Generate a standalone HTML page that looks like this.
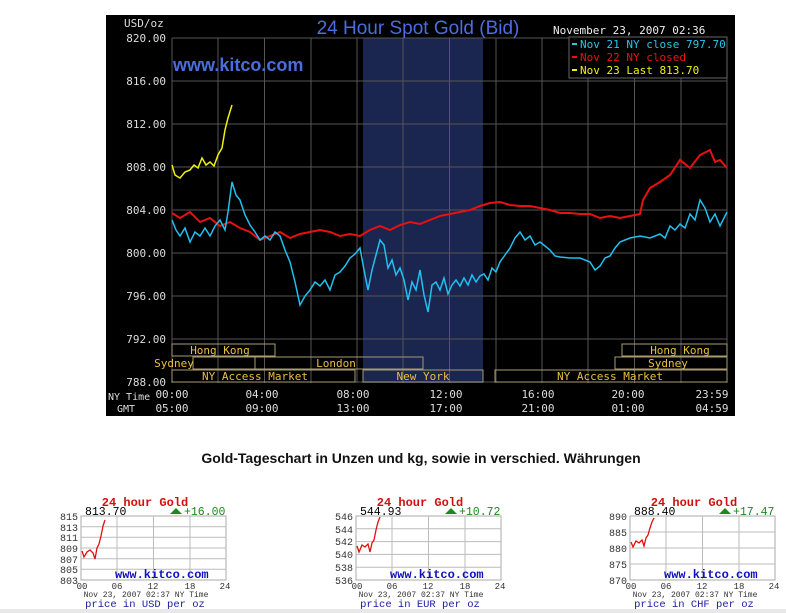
<!DOCTYPE html>
<html><head><meta charset="utf-8"><style>
body{margin:0;background:#fff;width:786px;height:613px;overflow:hidden}
svg{display:block}
.m{font-family:"DejaVu Sans Mono","Liberation Mono",monospace}
.l{font-family:"Liberation Mono",monospace}
</style></head><body>
<svg width="786" height="613" xmlns="http://www.w3.org/2000/svg">
<rect x="106" y="15" width="629" height="401" fill="#000"/>
<rect x="363" y="38" width="120" height="345" fill="#1a2550"/>
<g stroke="#555" stroke-width="1">
<line x1="172" y1="38" x2="727" y2="38"/><line x1="172" y1="81" x2="727" y2="81"/><line x1="172" y1="124" x2="727" y2="124"/><line x1="172" y1="167" x2="727" y2="167"/><line x1="172" y1="210" x2="727" y2="210"/><line x1="172" y1="253" x2="727" y2="253"/><line x1="172" y1="296" x2="727" y2="296"/><line x1="172" y1="339" x2="727" y2="339"/><line x1="172" y1="382" x2="727" y2="382"/>
<line x1="172" y1="38" x2="172" y2="383"/><line x1="218" y1="38" x2="218" y2="383"/><line x1="264.5" y1="38" x2="264.5" y2="383"/><line x1="311" y1="38" x2="311" y2="383"/><line x1="357" y1="38" x2="357" y2="383"/><line x1="403" y1="38" x2="403" y2="383"/><line x1="449.5" y1="38" x2="449.5" y2="383"/><line x1="496" y1="38" x2="496" y2="383"/><line x1="542" y1="38" x2="542" y2="383"/><line x1="588" y1="38" x2="588" y2="383"/><line x1="634.5" y1="38" x2="634.5" y2="383"/><line x1="681" y1="38" x2="681" y2="383"/><line x1="727" y1="38" x2="727" y2="383"/>
</g>
<g class="m" fill="#ddd" font-size="11" text-anchor="end">
<text x="166" y="42">820.00</text><text x="166" y="85">816.00</text><text x="166" y="128">812.00</text><text x="166" y="171">808.00</text><text x="166" y="214">804.00</text><text x="166" y="257">800.00</text><text x="166" y="300">796.00</text><text x="166" y="343">792.00</text><text x="166" y="386">788.00</text>
</g>
<text class="m" x="124" y="27" fill="#ddd" font-size="11">USD/oz</text>
<text x="418" y="34" fill="#4a6de0" font-family="Liberation Sans,sans-serif" font-size="19" text-anchor="middle">24 Hour Spot Gold (Bid)</text>
<text x="173" y="71" fill="#4a6de0" font-family="Liberation Sans,sans-serif" font-size="18" font-weight="bold">www.kitco.com</text>
<text class="m" x="553" y="34" fill="#eee" font-size="11">November 23, 2007 02:36</text>
<rect x="569" y="37" width="158" height="41" fill="#000" stroke="#666"/>
<g class="m" font-size="11">
<rect x="572" y="43" width="5" height="2" fill="#2cc4e8"/><text x="580" y="48" fill="#2cc4e8">Nov 21 NY close 797.70</text>
<rect x="572" y="56" width="5" height="2" fill="#f01010"/><text x="580" y="61" fill="#f01010">Nov 22 NY closed</text>
<rect x="572" y="69" width="5" height="2" fill="#f0f010"/><text x="580" y="74" fill="#f0f010">Nov 23 Last 813.70</text>
</g>
<g fill="none" stroke="#a89c70" stroke-width="1">
<rect x="172" y="344" width="103" height="12"/><rect x="622" y="344" width="105" height="12"/>
<rect x="193" y="357" width="62" height="12"/><rect x="255" y="357" width="168" height="12"/><rect x="615" y="357" width="112" height="12"/>
<rect x="172" y="370" width="183" height="12"/><rect x="363" y="370" width="120" height="12"/><rect x="495" y="370" width="232" height="12"/>
</g>
<g class="m" fill="#e8c040" font-size="11" text-anchor="middle">
<text x="220" y="354">Hong Kong</text><text x="680" y="354">Hong Kong</text>
<text x="174" y="367">Sydney</text><text x="336" y="367">London</text><text x="668" y="367">Sydney</text>
<text x="255" y="380">NY Access Market</text><text x="423" y="380">New York</text><text x="610" y="380">NY Access Market</text>
</g>
<g class="m" fill="#ddd" font-size="11">
<text x="108" y="400" font-size="10">NY Time</text><text x="117" y="412" font-size="10">GMT</text>
<g text-anchor="middle">
<text x="172" y="398">00:00</text><text x="262" y="398">04:00</text><text x="353" y="398">08:00</text><text x="446" y="398">12:00</text><text x="538" y="398">16:00</text><text x="628" y="398">20:00</text><text x="712" y="398">23:59</text>
<text x="172" y="412">05:00</text><text x="262" y="412">09:00</text><text x="353" y="412">13:00</text><text x="446" y="412">17:00</text><text x="538" y="412">21:00</text><text x="628" y="412">01:00</text><text x="712" y="412">04:59</text>
</g></g>
<polyline fill="none" stroke="#e81010" stroke-width="2" points="172,213 180,218 190,212 200,222 210,218 220,226 230,222 240,228 250,232 260,240 270,236 280,232 290,238 300,234 310,232 320,230 330,232 340,236 350,234 360,236 370,230 380,226 390,230 400,225 410,222 420,224 430,220 440,216 450,214 460,212 470,210 480,206 490,203 500,202 510,205 520,206 530,206 540,208 550,210 560,213 570,213 580,214 590,214 600,218 610,216 620,218 630,216 640,214 643,200 650,188 660,182 670,175 680,160 690,168 700,155 710,150 715,162 720,160 727,168"/>
<polyline fill="none" stroke="#20c0f0" stroke-width="1.5" points="172,220 176,230 180,236 185,228 190,242 195,232 200,236 205,228 210,236 215,226 220,220 225,230 228,212 232,182 236,195 240,200 245,215 250,225 255,232 260,240 265,236 270,240 275,232 280,236 285,250 290,262 295,282 300,305 305,296 310,290 315,282 320,286 325,280 330,290 335,275 340,272 345,266 350,258 355,254 360,248 364,270 368,290 372,270 376,255 380,240 384,245 388,268 392,260 396,275 400,268 404,280 408,300 412,282 416,290 420,270 424,295 428,312 432,285 436,282 440,290 444,278 448,294 452,285 456,280 460,286 464,278 468,285 472,275 476,282 480,276 484,274 488,280 492,268 496,272 500,262 505,255 510,248 515,238 520,232 525,240 530,236 535,245 540,242 545,246 550,250 555,256 560,257 570,258 580,258 590,262 595,270 600,266 605,258 610,256 615,248 620,242 625,240 630,238 640,236 650,238 660,234 665,238 670,226 675,230 680,224 685,228 690,214 695,220 700,200 705,208 710,222 715,214 720,226 727,212"/>
<polyline fill="none" stroke="#f0f010" stroke-width="1.5" points="172,165 175,175 180,178 185,172 190,170 194,165 198,168 202,158 206,165 210,162 214,166 218,155 222,148 225,130 228,118 232,105"/>
<text x="421" y="463" font-family="Liberation Sans,sans-serif" font-size="14" font-weight="bold" text-anchor="middle" fill="#111">Gold-Tageschart in Unzen und kg, sowie in verschied. Währungen</text>

<g>
<rect x="81" y="516" width="145" height="64" fill="#fff" stroke="#aaa"/>
<g stroke="#bbb"><line x1="81" y1="526.7" x2="226" y2="526.7"/><line x1="81" y1="537.3" x2="226" y2="537.3"/><line x1="81" y1="548" x2="226" y2="548"/><line x1="81" y1="558.7" x2="226" y2="558.7"/><line x1="81" y1="569.3" x2="226" y2="569.3"/><line x1="117" y1="516" x2="117" y2="580"/><line x1="153.5" y1="516" x2="153.5" y2="580"/><line x1="190" y1="516" x2="190" y2="580"/></g>
<g class="l" font-size="10" fill="#333" text-anchor="end"><text x="78" y="520">815</text><text x="78" y="531">813</text><text x="78" y="541">811</text><text x="78" y="552">809</text><text x="78" y="563">807</text><text x="78" y="573">805</text><text x="78" y="584">803</text></g>
<polyline fill="none" stroke="#e01010" stroke-width="1.3" points="82,551 84,557 87,552 90,550 93,553 95,559 97,548 99,544 101,536 103,526 105,520"/>
</g>
<g transform="translate(275,0)">
<rect x="81" y="516" width="145" height="64" fill="#fff" stroke="#aaa"/>
<g stroke="#bbb"><line x1="81" y1="528.8" x2="226" y2="528.8"/><line x1="81" y1="541.6" x2="226" y2="541.6"/><line x1="81" y1="554.4" x2="226" y2="554.4"/><line x1="81" y1="567.2" x2="226" y2="567.2"/><line x1="117" y1="516" x2="117" y2="580"/><line x1="153.5" y1="516" x2="153.5" y2="580"/><line x1="190" y1="516" x2="190" y2="580"/></g>
<polyline fill="none" stroke="#e01010" stroke-width="1.3" points="82,546 84,552 87,545 90,547 93,544 95,552 97,543 99,540 101,530 103,522 105,517"/>
<g class="l" font-size="10" fill="#333" text-anchor="end"><text x="78" y="520">546</text><text x="78" y="533">544</text><text x="78" y="545">542</text><text x="78" y="558">540</text><text x="78" y="571">538</text><text x="78" y="584">536</text></g>
</g>
<g transform="translate(549,0)">
<rect x="81" y="516" width="145" height="64" fill="#fff" stroke="#aaa"/>
<g stroke="#bbb"><line x1="81" y1="532" x2="226" y2="532"/><line x1="81" y1="548" x2="226" y2="548"/><line x1="81" y1="564" x2="226" y2="564"/><line x1="117" y1="516" x2="117" y2="580"/><line x1="153.5" y1="516" x2="153.5" y2="580"/><line x1="190" y1="516" x2="190" y2="580"/></g>
<polyline fill="none" stroke="#e01010" stroke-width="1.3" points="82,542 84,547 87,541 90,543 93,540 95,546 97,538 99,535 101,528 103,522 105,518"/>
<g class="l" font-size="10" fill="#333" text-anchor="end"><text x="78" y="520">890</text><text x="78" y="536">885</text><text x="78" y="552">880</text><text x="78" y="568">875</text><text x="78" y="584">870</text></g>
</g>
<g id="lbl">
<g transform="translate(0,0)">
<text class="l" x="145" y="506" font-size="12" font-weight="bold" fill="#d01010" text-anchor="middle">24 hour Gold</text>
<text class="l" x="85" y="515" font-size="11.5" fill="#000">813.70</text>
<polygon points="170,514 176,508 182,514" fill="#1a8a1a"/>
<text class="l" x="184" y="515" font-size="11.5" fill="#1a8a1a">+16.00</text>
<text class="l" x="115" y="578" font-size="12" font-weight="bold" fill="#1010c0">www.kitco.com</text>
<g class="l" font-size="9" fill="#333" text-anchor="middle"><text x="82" y="589">00</text><text x="117" y="589">06</text><text x="153" y="589">12</text><text x="190" y="589">18</text><text x="225" y="589">24</text></g>
<text class="l" x="146" y="597" font-size="8" fill="#333" text-anchor="middle">Nov 23, 2007 02:37 NY Time</text>
<text class="l" x="145" y="607" font-size="10.5" fill="#1a1aa0" text-anchor="middle">price in USD per oz</text>
</g>
<g transform="translate(275,0)">
<text class="l" x="145" y="506" font-size="12" font-weight="bold" fill="#d01010" text-anchor="middle">24 hour Gold</text>
<text class="l" x="85" y="515" font-size="11.5" fill="#000">544.93</text>
<polygon points="170,514 176,508 182,514" fill="#1a8a1a"/>
<text class="l" x="184" y="515" font-size="11.5" fill="#1a8a1a">+10.72</text>
<text class="l" x="115" y="578" font-size="12" font-weight="bold" fill="#1010c0">www.kitco.com</text>
<g class="l" font-size="9" fill="#333" text-anchor="middle"><text x="82" y="589">00</text><text x="117" y="589">06</text><text x="153" y="589">12</text><text x="190" y="589">18</text><text x="225" y="589">24</text></g>
<text class="l" x="146" y="597" font-size="8" fill="#333" text-anchor="middle">Nov 23, 2007 02:37 NY Time</text>
<text class="l" x="145" y="607" font-size="10.5" fill="#1a1aa0" text-anchor="middle">price in EUR per oz</text>
</g>
<g transform="translate(549,0)">
<text class="l" x="145" y="506" font-size="12" font-weight="bold" fill="#d01010" text-anchor="middle">24 hour Gold</text>
<text class="l" x="85" y="515" font-size="11.5" fill="#000">888.40</text>
<polygon points="170,514 176,508 182,514" fill="#1a8a1a"/>
<text class="l" x="184" y="515" font-size="11.5" fill="#1a8a1a">+17.47</text>
<text class="l" x="115" y="578" font-size="12" font-weight="bold" fill="#1010c0">www.kitco.com</text>
<g class="l" font-size="9" fill="#333" text-anchor="middle"><text x="82" y="589">00</text><text x="117" y="589">06</text><text x="153" y="589">12</text><text x="190" y="589">18</text><text x="225" y="589">24</text></g>
<text class="l" x="146" y="597" font-size="8" fill="#333" text-anchor="middle">Nov 23, 2007 02:37 NY Time</text>
<text class="l" x="145" y="607" font-size="10.5" fill="#1a1aa0" text-anchor="middle">price in CHF per oz</text>
</g>
</g>
<rect x="0" y="609" width="786" height="4" fill="#e8e8e8"/>
</svg>
</body></html>
